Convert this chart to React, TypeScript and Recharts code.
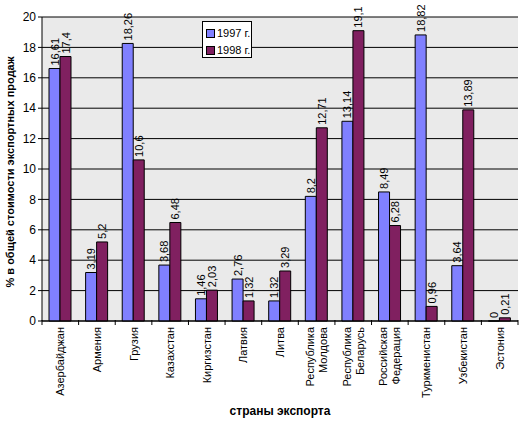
import { Bar, BarChart, CartesianGrid, Label, LabelList, XAxis, YAxis } from 'recharts';

const countries = [
  'Азербайджан',
  'Армения',
  'Грузия',
  'Казахстан',
  'Киргизстан',
  'Латвия',
  'Литва',
  'Республика\nМолдова',
  'Республика\nБеларусь',
  'Российская\nФедерация',
  'Туркменистан',
  'Узбекистан',
  'Эстония',
];
const share1997 = [16.61, 3.19, 18.26, 3.68, 1.46, 2.76, 1.32, 8.2, 13.14, 8.49, 18.82, 3.64, 0];
const share1998 = [17.4, 5.2, 10.6, 6.48, 2.03, 1.32, 3.29, 12.71, 19.1, 6.28, 0.96, 13.89, 0.21];
const yTicks = [0, 2, 4, 6, 8, 10, 12, 14, 16, 18, 20];

const data = countries.map((name, i) => ({ name, y1997: share1997[i], y1998: share1998[i] }));

const FONT = '"Liberation Sans", Arial, sans-serif';
const BLUE = '#8080FF';
const PLUM = '#802060';

function CountryTick(props: any) {
  const { x, y, payload, index } = props;
  const band = 476 / countries.length;
  const lines = String(payload.value).split('\n');
  const lh = 13;
  return (
    <g transform={`translate(${x},${y})`}>
      <line x1={-band / 2} x2={-band / 2} y1={-1} y2={4} stroke="#000" />
      {index === countries.length - 1 && <line x1={band / 2} x2={band / 2} y1={-1} y2={4} stroke="#000" />}
      <text
        transform="rotate(-90)"
        textAnchor="end"
        fontSize={11}
        fontFamily={FONT}
        fill="#000"
        x={-6}
        y={4 - ((lines.length - 1) * lh) / 2}
      >
        {lines.map((l, i) => (
          <tspan key={i} x={-6} dy={i === 0 ? 0 : lh}>
            {l}
          </tspan>
        ))}
      </text>
    </g>
  );
}

function ValueLabel(props: any) {
  const { x, y, width, value } = props;
  const cx = x + width / 2 + 4;
  return (
    <text
      transform={`translate(${cx},${y - 3}) rotate(-90)`}
      fontSize={11}
      fontFamily={FONT}
      fill="#000"
      textAnchor="start"
    >
      {String(value).replace('.', ',')}
    </text>
  );
}

function LegendBox() {
  const items = [
    { label: '1997 г.', color: BLUE },
    { label: '1998 г.', color: PLUM },
  ];
  return (
    <div
      style={{
        position: 'absolute',
        left: 202,
        top: 21,
        border: '1px solid #000',
        background: '#fff',
        width: 50,
        height: 37,
        boxSizing: 'border-box',
        padding: '3px 0 0 3px',
        fontFamily: FONT,
        fontSize: 11,
        lineHeight: '17px',
      }}
    >
      {items.map((it) => (
        <div key={it.label} style={{ display: 'flex', alignItems: 'center', whiteSpace: 'nowrap' }}>
          <span
            style={{
              display: 'inline-block',
              width: 7,
              height: 7,
              background: it.color,
              border: '1px solid #000',
              marginRight: 2,
            }}
          />
          {it.label}
        </div>
      ))}
    </div>
  );
}

export default function App() {
  return (
    <div style={{ position: 'absolute', left: 0, top: 0, width: 528, height: 421, background: '#fff' }}>
      <BarChart
        width={528}
        height={421}
        data={data}
        margin={{ top: 17, right: 10, bottom: 0, left: 0 }}
        barGap={0}
        barSize={11}
      >
        <CartesianGrid vertical={false} stroke="#000" fill="#EAEAEA" />
        <XAxis
          dataKey="name"
          height={100}
          interval={0}
          stroke="#000"
          tickLine={false}
          tickSize={0}
          tickMargin={0}
          tick={<CountryTick />}
        >
          <Label
            value="страны экспорта"
            position="insideBottom"
            offset={6}
            style={{ fontFamily: FONT, fontSize: 12, fontWeight: 'bold', fill: '#000' }}
          />
        </XAxis>
        <XAxis xAxisId="top" orientation="top" stroke="#808080" tick={false} tickLine={false} height={0} />
        <YAxis
          domain={[0, 20]}
          ticks={yTicks}
          interval={0}
          width={42}
          stroke="#000"
          tickSize={4}
          tickMargin={2}
          tick={{ fontFamily: FONT, fontSize: 12, fill: '#000' }}
        >
          <Label
            value="% в общей стоимости экспортных продаж"
            angle={-90}
            position="insideLeft"
            offset={0}
            content={(p: any) => {
              const vb = p.viewBox;
              const cy = vb.y + vb.height / 2 + 3;
              return (
                <text
                  transform={`translate(14,${cy}) rotate(-90)`}
                  textAnchor="middle"
                  fontFamily={FONT}
                  fontSize={11}
                  fontWeight="bold"
                  fill="#000"
                >
                  % в общей стоимости экспортных продаж
                </text>
              );
            }}
          />
        </YAxis>
        <YAxis yAxisId="right" orientation="right" stroke="#808080" tick={false} tickLine={false} width={0} />
        <Bar dataKey="y1997" fill={BLUE} stroke="#000" strokeWidth={1} minPointSize={0.01} isAnimationActive={false}>
          <LabelList dataKey="y1997" content={<ValueLabel />} />
        </Bar>
        <Bar dataKey="y1998" fill={PLUM} stroke="#000" strokeWidth={1} isAnimationActive={false}>
          <LabelList dataKey="y1998" content={<ValueLabel />} />
        </Bar>
      </BarChart>
      <LegendBox />
    </div>
  );
}
